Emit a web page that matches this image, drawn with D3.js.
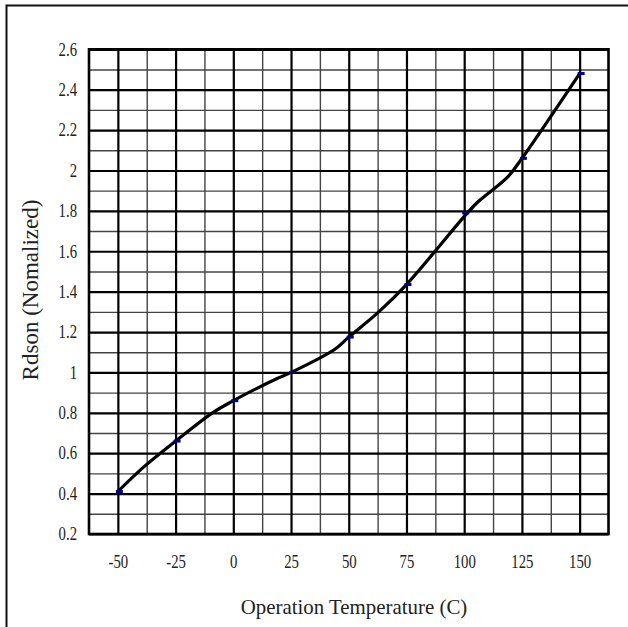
<!DOCTYPE html>
<html>
<head>
<meta charset="utf-8">
<script src="https://cdn.jsdelivr.net/npm/d3@7"></script>
<style>
  body { margin: 0; background: #fff; }
  svg { display: block; }
  text { font-family: "Liberation Serif", "Times New Roman", serif; fill: #222; }
</style>
</head>
<body>
<div id="chart"></div>
<script>
// temperatures on the category axis
var temps = [-50, -25, 0, 25, 50, 75, 100, 125, 150];
// measured Rdson (blue markers)
var rdson = [0.41, 0.66, 0.86, 1.0, 1.175, 1.435, 1.79, 2.06, 2.48];
// points along the black curve
var curveTemps = [-50, -39, -25, -9, 0, 10, 19, 25, 44, 50, 63, 75, 101, 106, 119, 125, 150];
var curveVals = [0.41, 0.53, 0.66, 0.80, 0.86, 0.92, 0.97, 1.0, 1.115, 1.175, 1.30, 1.435, 1.785, 1.845, 1.97, 2.06, 2.48];

var xTickLabels = ["-50", "-25", "0", "25", "50", "75", "100", "125", "150"];
var yTicks = [0.2, 0.4, 0.6, 0.8, 1, 1.2, 1.4, 1.6, 1.8, 2, 2.2, 2.4, 2.6];
var yTickLabels = ["0.2", "0.4", "0.6", "0.8", "1", "1.2", "1.4", "1.6", "1.8", "2", "2.2", "2.4", "2.6"];
var xMinor = [-37.5, -12.5, 12.5, 37.5, 62.5, 87.5, 112.5, 137.5];
var yMinor = [0.3, 0.5, 0.7, 0.9, 1.1, 1.3, 1.5, 1.7, 1.9, 2.1, 2.3, 2.5];

var W = 628, H = 627;
var plotLeft = 89, plotRight = 608.5, plotTop = 49.3, plotBottom = 534;

var svg = d3.select("#chart").append("svg")
    .attr("width", W)
    .attr("height", H);

// outer frame (only left and top are in view)
svg.append("rect")
    .attr("x", 6.5).attr("y", 5.5)
    .attr("width", 700).attr("height", 700)
    .attr("fill", "none")
    .attr("stroke", "#111")
    .attr("stroke-width", 2);

var x = d3.scaleLinear().domain([-62.5, 162.5]).range([plotLeft, plotRight]);
var y = d3.scaleLinear().domain([0.2, 2.6]).range([plotBottom, plotTop]);

var plotW = plotRight - plotLeft, plotH = plotBottom - plotTop;

// minor grid
svg.append("g")
    .attr("transform", "translate(0," + plotBottom + ")")
    .call(d3.axisBottom(x).tickValues(xMinor).tickSize(-plotH).tickFormat(""))
    .call(function(g) { g.select(".domain").remove(); })
    .selectAll("line").attr("stroke", "#444").attr("stroke-width", 1.4);

svg.append("g")
    .attr("transform", "translate(" + plotLeft + ",0)")
    .call(d3.axisLeft(y).tickValues(yMinor).tickSize(-plotW).tickFormat(""))
    .call(function(g) { g.select(".domain").remove(); })
    .selectAll("line").attr("stroke", "#444").attr("stroke-width", 1.4);

// major grid
svg.append("g")
    .attr("transform", "translate(0," + plotBottom + ")")
    .call(d3.axisBottom(x).tickValues(temps).tickSize(-plotH).tickFormat(""))
    .call(function(g) { g.select(".domain").remove(); })
    .selectAll("line").attr("stroke", "#000").attr("stroke-width", 2.2);

svg.append("g")
    .attr("transform", "translate(" + plotLeft + ",0)")
    .call(d3.axisLeft(y).tickValues(yTicks).tickSize(-plotW).tickFormat(""))
    .call(function(g) { g.select(".domain").remove(); })
    .selectAll("line").attr("stroke", "#000").attr("stroke-width", 2.2);

// plot border
svg.append("rect")
    .attr("x", plotLeft).attr("y", plotTop)
    .attr("width", plotW).attr("height", plotH)
    .attr("fill", "none")
    .attr("stroke", "#000")
    .attr("stroke-width", 2.6);

// tick labels
var xAxis = svg.append("g")
    .attr("transform", "translate(0," + plotBottom + ")")
    .call(d3.axisBottom(x).tickValues(temps).tickSize(0).tickPadding(21)
        .tickFormat(function(d, i) { return xTickLabels[i]; }));
xAxis.select(".domain").remove();
xAxis.selectAll("text")
    .attr("font-size", 18)
    .attr("fill", "#222")
    .attr("transform", "scale(0.82,1)");

var yAxis = svg.append("g")
    .attr("transform", "translate(77,0)")
    .call(d3.axisLeft(y).tickValues(yTicks).tickSize(0).tickPadding(0)
        .tickFormat(function(d, i) { return yTickLabels[i]; }));
yAxis.select(".domain").remove();
yAxis.selectAll("text")
    .attr("font-size", 18)
    .attr("fill", "#222")
    .attr("transform", "scale(0.82,1)");

// curve
var line = d3.line()
    .x(function(d) { return x(d[0]); })
    .y(function(d) { return y(d[1]); })
    .curve(d3.curveCatmullRom.alpha(0.5));

svg.append("path")
    .datum(d3.zip(curveTemps, curveVals))
    .attr("d", line)
    .attr("fill", "none")
    .attr("stroke", "#000")
    .attr("stroke-width", 3.2)
    .attr("stroke-linejoin", "round");

// markers
svg.selectAll(".mark")
    .data(d3.zip(temps, rdson))
    .enter()
    .append("rect")
    .attr("class", "mark")
    .attr("x", function(d) { return x(d[0]) - 2; })
    .attr("y", function(d) { return y(d[1]) - 1.5; })
    .attr("width", 7)
    .attr("height", 3)
    .attr("fill", "#000080");

// axis titles
svg.append("text")
    .attr("transform", "translate(354,614) scale(0.95,1)")
    .attr("text-anchor", "middle")
    .attr("font-size", 22)
    .text("Operation Temperature (C)");

svg.append("text")
    .attr("transform", "translate(38,290) rotate(-90)")
    .attr("text-anchor", "middle")
    .attr("font-size", 23)
    .text("Rdson (Nomalized)");
</script>
</body>
</html>
